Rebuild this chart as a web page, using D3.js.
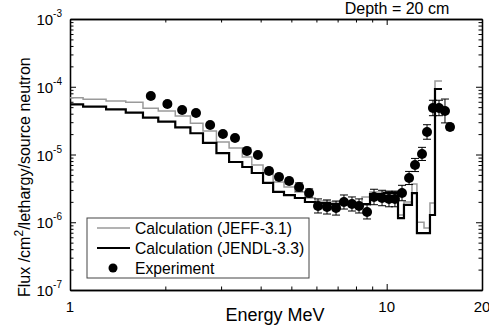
<!DOCTYPE html>
<html>
<head>
<meta charset="utf-8">
<script src="https://cdn.jsdelivr.net/npm/d3@7/dist/d3.min.js"></script>
<style>
    body { margin: 0; background: #fff; }
    svg text { font-family: "Liberation Sans", Arial, Helvetica, sans-serif; fill: #000; }
</style>
</head>
<body>
<div id="chart"></div>
<script>

// bin edges of the calculated spectra (MeV)
const binEdges = [1, 1.1, 1.3, 1.5, 1.7, 1.9, 2.15, 2.4, 2.63, 2.9, 3.18, 3.5, 3.75, 4.07, 4.38, 4.74,
    5.13, 5.52, 5.94, 6.62, 7.4, 8.36, 8.86, 9.8, 10.86, 11.34, 12.02, 12.46, 13.12, 13.7, 14.21, 14.95];

// Calculation (JENDL-3.3)
const jendlFlux = [5.51e-5, 5.08e-5, 4.65e-5, 4.14e-5, 3.49e-5, 3.05e-5, 2.52e-5, 2.06e-5, 1.48e-5, 1.05e-5,
    7.75e-6, 6.54e-6, 5.33e-6, 3.80e-6, 2.80e-6, 2.52e-6, 2.28e-6, 1.99e-6, 1.92e-6, 1.86e-6, 1.86e-6,
    1.86e-6, 2.61e-6, 2.70e-6, 1.15e-6, 1.80e-6, 2.70e-6, 6.9e-7, 6.9e-7, 1.28e-6, 9.26e-5];

// Calculation (JEFF-3.1)
const jeffFlux = [6.89e-5, 6.53e-5, 6.16e-5, 5.90e-5, 4.81e-5, 4.39e-5, 3.70e-5, 2.89e-5, 2.22e-5, 1.53e-5,
    1.25e-5, 9.19e-6, 7.00e-6, 5.33e-6, 3.93e-6, 3.31e-6, 2.80e-6, 2.28e-6, 2.06e-6, 1.99e-6, 1.92e-6,
    2.36e-6, 2.80e-6, 2.89e-6, 1.28e-6, 1.99e-6, 3.67e-6, 1.0e-6, 8.2e-7, 1.92e-6, 1.22e-4];

// Experiment
const expEnergy = [1.80, 2.03, 2.26, 2.50, 2.77, 3.04, 3.32, 3.62, 3.92, 4.25, 4.57, 4.92, 5.29, 5.69,
    6.07, 6.48, 6.92, 7.33, 7.77, 8.18, 8.67, 9.12, 9.67, 10.17, 10.62, 11.18, 11.77, 12.29, 12.93,
    13.41, 14.0, 14.63, 15.28, 15.85];
const expFlux = [7.30e-5, 5.56e-5, 4.54e-5, 4.10e-5, 2.73e-5, 2.01e-5, 1.75e-5, 1.13e-5, 9.83e-6, 5.71e-6,
    4.65e-6, 4.06e-6, 3.31e-6, 2.70e-6, 1.74e-6, 1.68e-6, 1.62e-6, 1.99e-6, 1.86e-6, 1.74e-6, 1.42e-6,
    2.36e-6, 2.28e-6, 2.20e-6, 2.20e-6, 2.70e-6, 4.50e-6, 7.00e-6, 1.02e-5, 2.15e-5, 4.86e-5, 4.86e-5,
    4.39e-5, 2.55e-5];
// relative uncertainty
const expErr = [0.08, 0.08, 0.08, 0.08, 0.08, 0.08, 0.08, 0.08, 0.08, 0.1, 0.1, 0.1, 0.15, 0.15,
    0.27, 0.27, 0.27, 0.27, 0.27, 0.27, 0.27, 0.3, 0.3, 0.3, 0.3, 0.3, 0.25, 0.25, 0.25,
    0.28, 0.3, 0.3, 0.5, 0.1];

const xTickLabels = [1, 10, 20];
const yDecades = [1e-7, 1e-6, 1e-5, 1e-4, 1e-3];

class FluxChart {

    constructor(_parentElement) {
        this.parentElement = _parentElement;
        this.initVis();
    }

    initVis() {
        let vis = this;

        vis.margin = { top: 19, right: 7, bottom: 39, left: 70 };
        vis.width = 489 - vis.margin.left - vis.margin.right;
        vis.height = 329 - vis.margin.top - vis.margin.bottom;

        vis.root = d3.select("#" + vis.parentElement).append("svg")
            .attr("width", 489)
            .attr("height", 329);

        vis.svg = vis.root.append("g")
            .attr("transform", "translate(" + vis.margin.left + "," + vis.margin.top + ")");

        vis.x = d3.scaleLog().domain([1, 20]).range([0, vis.width]);
        vis.y = d3.scaleLog().domain([1e-7, 1e-3]).range([vis.height, 0]);

        vis.svg.append("clipPath").attr("id", "plot-clip")
            .append("rect").attr("width", vis.width).attr("height", vis.height);

        vis.updateVis();
    }

    stepData(values) {
        let pts = values.map((v, i) => [binEdges[i], v]);
        pts.push([binEdges[binEdges.length - 1], values[values.length - 1]]);
        return pts;
    }

    updateVis() {
        let vis = this;

        // minor ticks
        let xMinor = [2, 3, 4, 5, 6, 7, 8, 9];
        let yMinor = [];
        yDecades.slice(0, -1).forEach(d => {
            for (let k = 2; k <= 9; k++) yMinor.push(d * k);
        });

        let axes = [
            { ax: d3.axisBottom(vis.x), t: "translate(0," + vis.height + ")", major: [1, 10], minor: xMinor },
            { ax: d3.axisTop(vis.x), t: "translate(0,0)", major: [1, 10], minor: xMinor },
            { ax: d3.axisLeft(vis.y), t: "translate(0,0)", major: yDecades, minor: yMinor },
            { ax: d3.axisRight(vis.y), t: "translate(" + vis.width + ",0)", major: yDecades, minor: yMinor }
        ];

        axes.forEach(a => {
            vis.svg.append("g").attr("class", "axis").attr("transform", a.t)
                .call(a.ax.tickValues(a.major).tickFormat("").tickSizeInner(-6).tickSizeOuter(0));
            vis.svg.append("g").attr("class", "axis minor").attr("transform", a.t)
                .call(a.ax.tickValues(a.minor).tickFormat("").tickSizeInner(-3.5).tickSizeOuter(0));
        });

        vis.svg.selectAll(".axis path").attr("stroke", "#000").attr("stroke-width", 1.3);
        vis.svg.selectAll(".axis line").attr("stroke", "#000").attr("stroke-width", 1);

        // x tick labels
        vis.svg.selectAll(".xlabel")
            .data(xTickLabels)
            .enter()
            .append("text")
            .attr("class", "xlabel")
            .attr("x", d => vis.x(d))
            .attr("y", vis.height + 22)
            .attr("text-anchor", "middle")
            .attr("font-size", 15)
            .text(d => d);

        // y tick labels 10^n
        let ylab = vis.svg.selectAll(".ylabel")
            .data(yDecades)
            .enter()
            .append("text")
            .attr("class", "ylabel")
            .attr("x", -8)
            .attr("y", d => vis.y(d) + 6)
            .attr("text-anchor", "end")
            .attr("font-size", 15);
        ylab.append("tspan").text("10");
        ylab.append("tspan")
            .attr("font-size", 10)
            .attr("dy", -8)
            .text(d => "-" + Math.round(-Math.log10(d)));

        // axis titles
        vis.root.append("text")
            .attr("x", 275)
            .attr("y", 321)
            .attr("text-anchor", "middle")
            .attr("font-size", 18)
            .text("Energy MeV");

        let yt = vis.root.append("text")
            .attr("transform", "translate(30,297) rotate(-90)")
            .attr("font-size", 16);
        yt.append("tspan").text("Flux /cm");
        yt.append("tspan").attr("font-size", 12).attr("dy", -7).text("2");
        yt.append("tspan").attr("dy", 7).text("/lethargy/source neutron");

        vis.root.append("text")
            .attr("x", 397)
            .attr("y", 14)
            .attr("text-anchor", "middle")
            .attr("font-size", 16)
            .text("Depth = 20 cm");

        // histograms
        let line = d3.line()
            .x(d => vis.x(d[0]))
            .y(d => vis.y(d[1]))
            .curve(d3.curveStepAfter);

        let plot = vis.svg.append("g").attr("clip-path", "url(#plot-clip)");

        plot.append("path")
            .datum(vis.stepData(jeffFlux))
            .attr("fill", "none")
            .attr("stroke", "#9a9a9a")
            .attr("stroke-width", 1.5)
            .attr("d", line);

        plot.append("path")
            .datum(vis.stepData(jendlFlux))
            .attr("fill", "none")
            .attr("stroke", "#000")
            .attr("stroke-width", 2.2)
            .attr("d", line);

        // experiment with error bars
        let expData = expEnergy.map((e, i) => ({ e: e, v: expFlux[i], err: expErr[i] }));

        let bars = plot.selectAll(".errbar")
            .data(expData)
            .enter()
            .append("g")
            .attr("class", "errbar")
            .attr("stroke", "#000")
            .attr("stroke-width", 1);

        bars.append("line")
            .attr("x1", d => vis.x(d.e)).attr("x2", d => vis.x(d.e))
            .attr("y1", d => vis.y(d.v * (1 + d.err)))
            .attr("y2", d => vis.y(d.v / (1 + d.err)));
        bars.append("line")
            .attr("x1", d => vis.x(d.e) - 4).attr("x2", d => vis.x(d.e) + 4)
            .attr("y1", d => vis.y(d.v * (1 + d.err)))
            .attr("y2", d => vis.y(d.v * (1 + d.err)));
        bars.append("line")
            .attr("x1", d => vis.x(d.e) - 4).attr("x2", d => vis.x(d.e) + 4)
            .attr("y1", d => vis.y(d.v / (1 + d.err)))
            .attr("y2", d => vis.y(d.v / (1 + d.err)));

        plot.selectAll(".dot")
            .data(expData)
            .enter()
            .append("circle")
            .attr("class", "dot")
            .attr("cx", d => vis.x(d.e))
            .attr("cy", d => vis.y(d.v))
            .attr("r", 5)
            .attr("fill", "#000");

        // legend
        let lg = vis.root.append("g").attr("transform", "translate(87,218)");
        lg.append("rect")
            .attr("width", 222)
            .attr("height", 60)
            .attr("fill", "#fff")
            .attr("stroke", "#444")
            .attr("stroke-width", 1);

        let items = [
            { label: "Calculation (JEFF-3.1)", type: "line", color: "#9a9a9a", w: 1.5 },
            { label: "Calculation (JENDL-3.3)", type: "line", color: "#000", w: 2.2 },
            { label: "Experiment", type: "dot" }
        ];

        items.forEach((it, i) => {
            let cy = 10 + i * 20;
            if (it.type == "line") {
                lg.append("line")
                    .attr("x1", 10).attr("x2", 43)
                    .attr("y1", cy).attr("y2", cy)
                    .attr("stroke", it.color)
                    .attr("stroke-width", it.w);
            } else {
                lg.append("circle").attr("cx", 26).attr("cy", cy).attr("r", 4.5).attr("fill", "#000");
            }
            lg.append("text")
                .attr("x", 48)
                .attr("y", cy + 5.5)
                .attr("font-size", 15.7)
                .text(it.label);
        });
    }
}

new FluxChart("chart");

</script>
</body>
</html>
